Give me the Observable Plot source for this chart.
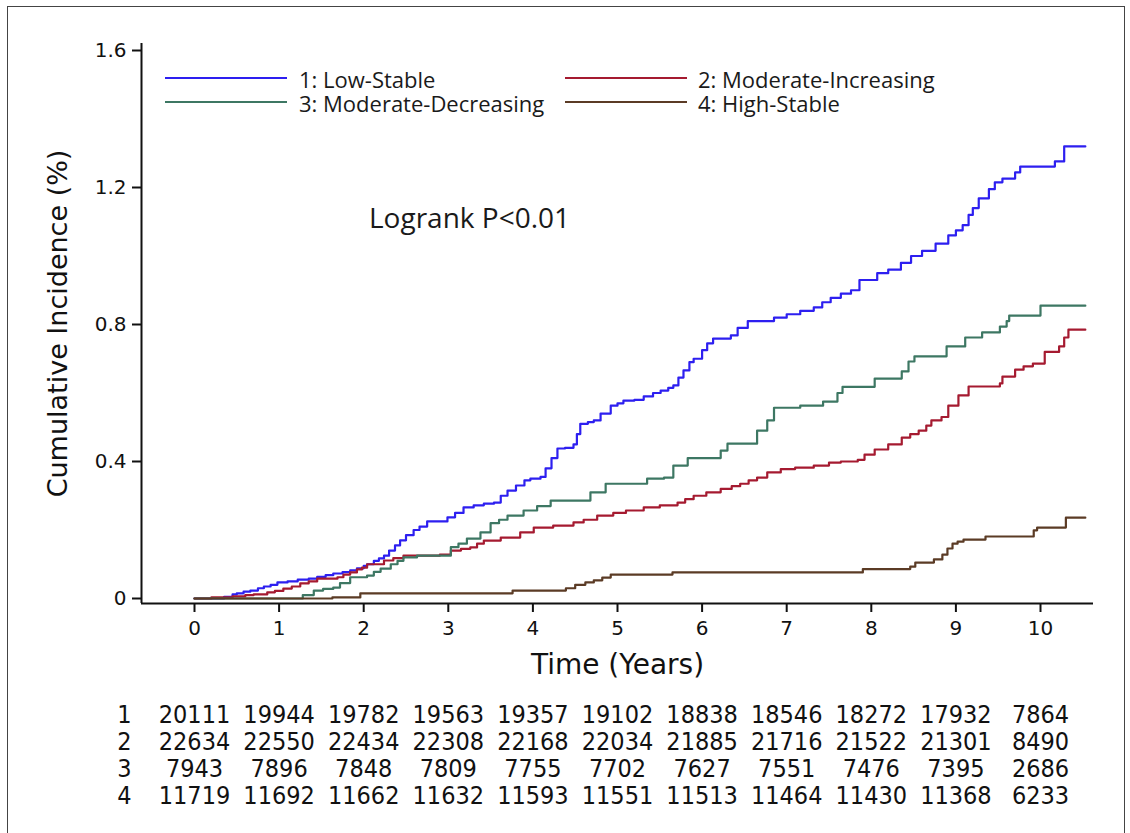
<!DOCTYPE html>
<html>
<head>
<meta charset="utf-8">
<script src="https://cdn.jsdelivr.net/npm/d3@7"></script>
<script src="https://cdn.jsdelivr.net/npm/@observablehq/plot@0.6"></script>
<style>
  html, body { margin: 0; padding: 0; background: #fff; }
  body { width: 1130px; height: 833px; position: relative; overflow: hidden; }
  #frame { position: absolute; left: 7px; top: 6px; width: 1118px; height: 900px; border: 1.5px solid #444; box-sizing: border-box; }
  #chart { position: absolute; left: 0; top: 0; }
  #risk { position: absolute; left: 0; top: 690px; }
  .leg { position: absolute; font-family: "Open Sans", "Noto Sans", sans-serif; font-size: 22px; color: #1a1a1a; white-space: nowrap; line-height: 20px; height: 20px; }
  .sw { position: absolute; height: 2px; width: 122px; }
  #logrank { position: absolute; left: 369px; top: 203px; font-family: "Open Sans", "Noto Sans", sans-serif; font-size: 28px; color: #1a1a1a; white-space: nowrap; line-height: 1; }
</style>
</head>
<body>
<div id="frame"></div>
<div id="chart"></div>
<div id="risk"></div>
<div id="legend"></div>
<div id="logrank">Logrank P&lt;0.01</div>
<script>
// ---- data ----
const seriesNames = ["1: Low-Stable", "2: Moderate-Increasing", "3: Moderate-Decreasing", "4: High-Stable"];
const seriesColors = ["#2d1ff0", "#a51a30", "#3d7763", "#5b3b25"];

const t1 = [0,0.35,0.45,0.5,0.58,0.66,0.75,0.82,0.9,0.98,1.1,1.22,1.35,1.45,1.55,1.64,1.75,1.84,1.92,2.0,2.04,2.12,2.18,2.24,2.3,2.37,2.43,2.5,2.59,2.66,2.75,2.99,3.08,3.18,3.3,3.42,3.54,3.62,3.7,3.8,3.9,3.97,4.09,4.15,4.22,4.29,4.38,4.48,4.52,4.56,4.65,4.72,4.8,4.92,5.0,5.07,5.2,5.31,5.42,5.51,5.6,5.66,5.72,5.78,5.85,5.9,6.0,6.06,6.13,6.34,6.42,6.54,6.85,7.0,7.16,7.32,7.42,7.52,7.64,7.76,7.86,8.07,8.2,8.35,8.47,8.6,8.76,8.91,9.0,9.08,9.15,9.2,9.27,9.39,9.46,9.55,9.7,9.76,10.17,10.28,10.53];
const v1 = [0,0.005,0.012,0.015,0.02,0.023,0.03,0.035,0.04,0.047,0.05,0.055,0.058,0.063,0.068,0.073,0.077,0.082,0.088,0.095,0.10,0.11,0.117,0.125,0.14,0.155,0.17,0.185,0.20,0.21,0.225,0.237,0.25,0.266,0.272,0.277,0.28,0.30,0.315,0.33,0.345,0.35,0.355,0.38,0.41,0.438,0.44,0.45,0.48,0.51,0.515,0.52,0.54,0.563,0.57,0.578,0.58,0.59,0.60,0.607,0.615,0.622,0.645,0.666,0.69,0.70,0.725,0.745,0.759,0.768,0.79,0.81,0.82,0.83,0.84,0.85,0.865,0.878,0.89,0.90,0.93,0.95,0.96,0.98,1.0,1.015,1.036,1.06,1.075,1.09,1.12,1.14,1.168,1.195,1.215,1.226,1.244,1.261,1.276,1.32,1.32];

const t2 = [0,0.2,0.45,0.6,0.7,0.86,0.95,1.05,1.15,1.25,1.35,1.45,1.69,1.76,1.84,1.92,1.98,2.04,2.24,2.35,2.47,2.9,3.03,3.15,3.26,3.34,3.42,3.62,3.85,4.01,4.24,4.48,4.6,4.76,4.95,5.1,5.31,5.5,5.71,5.8,5.9,6.05,6.22,6.35,6.45,6.55,6.65,6.77,6.93,7.1,7.32,7.5,7.64,7.84,7.92,8.04,8.2,8.36,8.46,8.56,8.65,8.71,8.83,8.91,9.03,9.15,9.52,9.55,9.7,9.8,9.91,10.05,10.22,10.28,10.33,10.53];
const v2 = [0,0.003,0.006,0.01,0.012,0.018,0.022,0.029,0.035,0.044,0.05,0.058,0.062,0.07,0.076,0.085,0.09,0.10,0.111,0.118,0.125,0.128,0.14,0.145,0.149,0.16,0.169,0.178,0.193,0.207,0.213,0.222,0.23,0.242,0.25,0.257,0.266,0.272,0.28,0.29,0.30,0.31,0.32,0.328,0.335,0.345,0.353,0.368,0.378,0.382,0.388,0.397,0.40,0.405,0.42,0.435,0.45,0.47,0.48,0.49,0.505,0.52,0.53,0.563,0.593,0.619,0.628,0.648,0.668,0.678,0.686,0.72,0.736,0.762,0.785,0.785];

const t3 = [0,1.28,1.41,1.52,1.64,1.72,1.84,2.04,2.12,2.2,2.32,2.4,2.47,2.63,3.03,3.12,3.22,3.38,3.5,3.6,3.7,3.89,4.05,4.21,4.68,4.86,5.35,5.55,5.66,5.83,6.22,6.3,6.65,6.77,6.85,7.16,7.43,7.6,7.66,8.04,8.36,8.44,8.51,8.89,9.11,9.31,9.52,9.6,9.63,10.0,10.53];
const v3 = [0,0.01,0.023,0.028,0.032,0.045,0.062,0.067,0.078,0.087,0.10,0.11,0.12,0.125,0.15,0.16,0.175,0.193,0.22,0.23,0.242,0.257,0.27,0.286,0.31,0.335,0.35,0.353,0.388,0.41,0.432,0.452,0.49,0.52,0.557,0.563,0.575,0.60,0.618,0.642,0.663,0.692,0.707,0.736,0.762,0.777,0.794,0.81,0.826,0.855,0.855];

const t4 = [0,1.63,1.96,3.76,4.39,4.5,4.62,4.72,4.82,4.92,5.65,7.9,8.46,8.52,8.74,8.84,8.9,8.96,9.02,9.09,9.35,9.92,9.96,10.3,10.53];
const v4 = [0,0.003,0.015,0.023,0.03,0.04,0.047,0.053,0.061,0.07,0.076,0.086,0.093,0.105,0.114,0.128,0.146,0.16,0.166,0.172,0.181,0.199,0.207,0.236,0.236];

const xTicks = [0,1,2,3,4,5,6,7,8,9,10];
const yTicks = [0,0.4,0.8,1.2,1.6];
const riskRows = ["1","2","3","4"];
const atRisk1 = [20111,19944,19782,19563,19357,19102,18838,18546,18272,17932,7864];
const atRisk2 = [22634,22550,22434,22308,22168,22034,21885,21716,21522,21301,8490];
const atRisk3 = [7943,7896,7848,7809,7755,7702,7627,7551,7476,7395,2686];
const atRisk4 = [11719,11692,11662,11632,11593,11551,11513,11464,11430,11368,6233];

const xLabel = "Time (Years)";
const yLabel = "Cumulative Incidence (%)";

// ---- build tables ----
const times = [t1, t2, t3, t4];
const vals = [v1, v2, v3, v4];
const curves = [];
seriesNames.forEach((name, i) => {
  times[i].forEach((t, j) => curves.push({series: name, t, v: vals[i][j]}));
});
const atRisk = [atRisk1, atRisk2, atRisk3, atRisk4];
const riskData = [];
riskRows.forEach((r, i) => xTicks.forEach((t, j) => riskData.push({row: r, t, n: atRisk[i][j]})));

// ---- layout ----
const W = 1130;
const H = 690;
const mL = 141, mR = 37, mT = 43, mB = 87;
const pxPerYear = 84.6;
const xPad = 53 / pxPerYear;
const xDomain = [-xPad, 10 + xPad];
const pxPerUnit = 342.5;
const yDomain = [-5 / pxPerUnit, 1.6 + 7 / pxPerUnit];
const axisColor = "#111";
const fontStack = "DejaVu Sans, Verdana, sans-serif";
const tableFont = "'Liberation Sans Narrow', 'DejaVu Sans Condensed', 'Arial Narrow', sans-serif";

const chart = Plot.plot({
  width: W, height: H,
  marginLeft: mL, marginRight: mR, marginTop: mT, marginBottom: mB,
  style: {fontFamily: fontStack, fontSize: "20px", color: "#111", background: "transparent"},
  x: {domain: xDomain},
  y: {domain: yDomain},
  color: {domain: seriesNames, range: seriesColors},
  marks: [
    Plot.line(curves, {x: "t", y: "v", z: "series", stroke: "series", curve: "step-after", strokeWidth: 2.2}),
    Plot.ruleX([xDomain[0]], {stroke: axisColor, strokeWidth: 2}),
    Plot.ruleY([yDomain[0]], {stroke: axisColor, strokeWidth: 2}),
    Plot.axisX({ticks: xTicks, tickSize: 9, tickPadding: 8, strokeWidth: 2, stroke: axisColor, label: null, fontSize: 20, tickFormat: d => String(d)}),
    Plot.axisY({ticks: yTicks, tickSize: 9, tickPadding: 6, strokeWidth: 2, stroke: axisColor, label: null, fontSize: 20, tickFormat: d => d === 0 ? "0" : d.toFixed(1)}),
    Plot.text([xLabel], {frameAnchor: "bottom", dy: 62, lineAnchor: "middle", fontSize: 28, fill: "#111"}),
    Plot.text([yLabel], {frameAnchor: "left", dx: -83, rotate: -90, textAnchor: "middle", lineAnchor: "middle", fontSize: 27, fill: "#111"})
  ]
});
document.getElementById("chart").appendChild(chart);

const risk = Plot.plot({
  width: W, height: 143,
  marginLeft: mL, marginRight: mR, marginTop: 23, marginBottom: 37,
  style: {fontFamily: tableFont, fontSize: "25px", color: "#111", background: "transparent"},
  x: {domain: xDomain, axis: null},
  y: {type: "point", domain: riskRows, padding: 0},
  marks: [
    Plot.axisY({tickSize: 0, tickPadding: 10, label: null, fontSize: 25}),
    Plot.text(riskData, {x: "t", y: "row", text: d => String(d.n), fontSize: 25, fill: "#111"})
  ]
});
document.getElementById("risk").appendChild(risk);

// ---- legend ----
const legend = document.getElementById("legend");
const legPos = [
  {lineX: 165, textX: 299, y: 78},
  {lineX: 565, textX: 698, y: 78},
  {lineX: 165, textX: 299, y: 102},
  {lineX: 565, textX: 698, y: 102}
];
seriesNames.forEach((name, i) => {
  const p = legPos[i];
  const sw = document.createElement("div");
  sw.className = "sw";
  sw.style.left = p.lineX + "px";
  sw.style.top = (p.y - 1) + "px";
  sw.style.background = seriesColors[i];
  legend.appendChild(sw);
  const tx = document.createElement("div");
  tx.className = "leg";
  tx.textContent = name;
  tx.style.left = p.textX + "px";
  tx.style.top = (p.y - 9) + "px";
  legend.appendChild(tx);
});
</script>
</body>
</html>
